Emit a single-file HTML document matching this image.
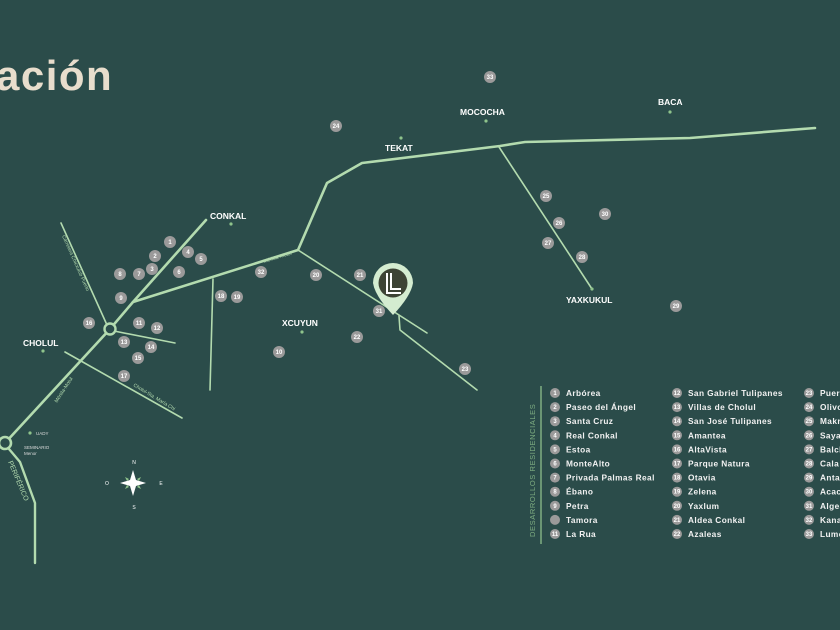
<!DOCTYPE html>
<html><head><meta charset="utf-8"><style>
html,body{margin:0;padding:0;background:#2b4c4a;}
svg{display:block;font-family:"Liberation Sans",sans-serif;}
.n circle{fill:#9b9a9a}
.n text{fill:#fff;font-size:6px;font-weight:bold;text-anchor:middle}
.pl{fill:#fff;font-size:8.5px;font-weight:bold}
.rd{stroke:#b3dbaf;fill:none;stroke-linecap:round;stroke-linejoin:round}
.lg text{fill:#f2f2f2;font-size:8.3px;font-weight:bold;letter-spacing:0.4px}
.lg circle{fill:#9b9a9a}
.lg .k{fill:#fff;font-size:6px;text-anchor:middle;letter-spacing:0}
</style></head><body>
<svg width="840" height="630" viewBox="0 0 840 630" xmlns="http://www.w3.org/2000/svg">
<rect width="840" height="630" fill="#2b4c4a"/>
<text x="-4" y="90" font-size="42" font-weight="bold" letter-spacing="1.5" fill="#e8ddcc">ación</text>

<polyline class="rd" stroke-width="2.6" points="5,443 110,329 133,302 206,220"/>
<polyline class="rd" stroke-width="2.6" points="133,302 298,250 327,183 362,163 500,146 525,142 690,138 815,128"/>
<polyline class="rd" stroke-width="2.4" points="9,449 20,462 35,503 35,563"/>
<line class="rd" stroke-width="1.6" x1="61" y1="223" x2="107" y2="325"/>
<line class="rd" stroke-width="1.6" x1="114" y1="331" x2="175" y2="343"/>
<line class="rd" stroke-width="1.6" x1="65" y1="352" x2="182" y2="418"/>
<line class="rd" stroke-width="1.6" x1="213" y1="279" x2="210" y2="390"/>
<line class="rd" stroke-width="1.6" x1="298" y1="250" x2="427" y2="333"/>
<polyline class="rd" stroke-width="1.6" points="399,316 400,330 477,390"/>
<line class="rd" stroke-width="1.6" x1="499" y1="147" x2="592" y2="289"/>
<circle cx="110" cy="329" r="5.5" fill="#2b4c4a" stroke="#b3dbaf" stroke-width="2.4"/>
<circle cx="5" cy="443" r="6" fill="#2b4c4a" stroke="#b3dbaf" stroke-width="2.6"/>

<text x="264" y="263" font-size="5" fill="#b3dbaf" transform="rotate(-17 264 263)">Mérida-Motul</text>
<text x="62" y="236" font-size="5" fill="#b3dbaf" transform="rotate(66 62 236)">Carretera Chicxulub Puerto</text>
<text x="133" y="386" font-size="5" fill="#b3dbaf" transform="rotate(31 133 386)">Cholul-Sta. María Chi</text>
<text x="57" y="403" font-size="5" fill="#b3dbaf" transform="rotate(-57 57 403)">Mérida-Motul</text>
<text x="8" y="462" font-size="7" fill="#b3dbaf" transform="rotate(67 8 462)">PERIFÉRICO</text>

<g fill="#8fc48c">
<circle cx="231" cy="224" r="1.6"/><circle cx="43" cy="351" r="1.6"/><circle cx="302" cy="332" r="1.6"/>
<circle cx="401" cy="138" r="1.6"/><circle cx="486" cy="121" r="1.6"/><circle cx="670" cy="112" r="1.6"/>
<circle cx="592" cy="289" r="1.6"/><circle cx="30" cy="433" r="1.6"/>
</g>
<text class="pl" x="210" y="219">CONKAL</text>
<text class="pl" x="23" y="346">CHOLUL</text>
<text class="pl" x="282" y="326">XCUYUN</text>
<text class="pl" x="385" y="151">TEKAT</text>
<text class="pl" x="460" y="115">MOCOCHA</text>
<text class="pl" x="658" y="105">BACA</text>
<text class="pl" x="566" y="303">YAXKUKUL</text>
<text x="36" y="435" font-size="4.5" fill="#ddd">UADY</text>
<text x="24" y="449" font-size="4.5" fill="#ddd">SEMINARIO</text>
<text x="24" y="455" font-size="4.5" fill="#ddd">Menor</text>

<g fill="#fff" font-size="5" text-anchor="middle">
<text x="134" y="464">N</text><text x="134" y="509">S</text><text x="107" y="485">O</text><text x="161" y="485">E</text>
</g>
<path d="M133,470 L136,480 L146,483 L136,486 L133,496 L130,486 L120,483 L130,480 Z" fill="#fff"/>
<path d="M129,479 L125,477 L127,481 Z M137,479 L141,477 L139,481Z M129,487 L125,489 L127,485Z M137,487 L141,489 L139,485Z" fill="#8fc48c"/>

<g class="n">
<g transform="translate(170,242)"><circle r="6"/><text y="2.2">1</text></g>
<g transform="translate(155,256)"><circle r="6"/><text y="2.2">2</text></g>
<g transform="translate(152,269)"><circle r="6"/><text y="2.2">3</text></g>
<g transform="translate(188,252)"><circle r="6"/><text y="2.2">4</text></g>
<g transform="translate(201,259)"><circle r="6"/><text y="2.2">5</text></g>
<g transform="translate(179,272)"><circle r="6"/><text y="2.2">6</text></g>
<g transform="translate(139,274)"><circle r="6"/><text y="2.2">7</text></g>
<g transform="translate(120,274)"><circle r="6"/><text y="2.2">8</text></g>
<g transform="translate(121,298)"><circle r="6"/><text y="2.2">9</text></g>
<g transform="translate(139,323)"><circle r="6"/><text y="2.2">11</text></g>
<g transform="translate(157,328)"><circle r="6"/><text y="2.2">12</text></g>
<g transform="translate(124,342)"><circle r="6"/><text y="2.2">13</text></g>
<g transform="translate(151,347)"><circle r="6"/><text y="2.2">14</text></g>
<g transform="translate(138,358)"><circle r="6"/><text y="2.2">15</text></g>
<g transform="translate(89,323)"><circle r="6"/><text y="2.2">16</text></g>
<g transform="translate(124,376)"><circle r="6"/><text y="2.2">17</text></g>
<g transform="translate(221,296)"><circle r="6"/><text y="2.2">18</text></g>
<g transform="translate(237,297)"><circle r="6"/><text y="2.2">19</text></g>
<g transform="translate(261,272)"><circle r="6"/><text y="2.2">32</text></g>
<g transform="translate(316,275)"><circle r="6"/><text y="2.2">20</text></g>
<g transform="translate(360,275)"><circle r="6"/><text y="2.2">21</text></g>
<g transform="translate(379,311)"><circle r="6"/><text y="2.2">31</text></g>
<g transform="translate(357,337)"><circle r="6"/><text y="2.2">22</text></g>
<g transform="translate(279,352)"><circle r="6"/><text y="2.2">10</text></g>
<g transform="translate(465,369)"><circle r="6"/><text y="2.2">23</text></g>
<g transform="translate(336,126)"><circle r="6"/><text y="2.2">24</text></g>
<g transform="translate(490,77)"><circle r="6"/><text y="2.2">33</text></g>
<g transform="translate(546,196)"><circle r="6"/><text y="2.2">25</text></g>
<g transform="translate(559,223)"><circle r="6"/><text y="2.2">26</text></g>
<g transform="translate(548,243)"><circle r="6"/><text y="2.2">27</text></g>
<g transform="translate(582,257)"><circle r="6"/><text y="2.2">28</text></g>
<g transform="translate(605,214)"><circle r="6"/><text y="2.2">30</text></g>
<g transform="translate(676,306)"><circle r="6"/><text y="2.2">29</text></g>
</g>

<path d="M373,283 A20,20 0 1 1 413,283 Q411,296 393,315 Q375,296 373,283 Z" fill="#d4ecd0"/>
<circle cx="393" cy="283" r="14.5" fill="#3d4334"/>
<path d="M387,273 V293 H401 M391,273 V289 H401" stroke="#fff" stroke-width="2" fill="none"/>

<line x1="541" y1="386" x2="541" y2="544" stroke="#7fae82" stroke-width="1.5"/>
<text x="535" y="537" font-size="7.5" fill="#7fae82" letter-spacing="0.6" transform="rotate(-90 535 537)">DESARROLLOS RESIDENCIALES</text>
<g class="lg">
<g transform="translate(555,393)">
<circle r="5"/><text class="k" y="2">1</text><text x="11" y="3">Arbórea</text>
<g transform="translate(0,14.1)"><circle r="5"/><text class="k" y="2">2</text><text x="11" y="3">Paseo del Ángel</text></g>
<g transform="translate(0,28.2)"><circle r="5"/><text class="k" y="2">3</text><text x="11" y="3">Santa Cruz</text></g>
<g transform="translate(0,42.3)"><circle r="5"/><text class="k" y="2">4</text><text x="11" y="3">Real Conkal</text></g>
<g transform="translate(0,56.4)"><circle r="5"/><text class="k" y="2">5</text><text x="11" y="3">Estoa</text></g>
<g transform="translate(0,70.5)"><circle r="5"/><text class="k" y="2">6</text><text x="11" y="3">MonteAlto</text></g>
<g transform="translate(0,84.6)"><circle r="5"/><text class="k" y="2">7</text><text x="11" y="3">Privada Palmas Real</text></g>
<g transform="translate(0,98.7)"><circle r="5"/><text class="k" y="2">8</text><text x="11" y="3">Ébano</text></g>
<g transform="translate(0,112.8)"><circle r="5"/><text class="k" y="2">9</text><text x="11" y="3">Petra</text></g>
<g transform="translate(0,126.9)"><circle r="5"/><text x="11" y="3">Tamora</text></g>
<g transform="translate(0,141)"><circle r="5"/><text class="k" y="2">11</text><text x="11" y="3">La Rua</text></g>
</g>
<g transform="translate(677,393)">
<circle r="5"/><text class="k" y="2">12</text><text x="11" y="3">San Gabriel Tulipanes</text>
<g transform="translate(0,14.1)"><circle r="5"/><text class="k" y="2">13</text><text x="11" y="3">Villas de Cholul</text></g>
<g transform="translate(0,28.2)"><circle r="5"/><text class="k" y="2">14</text><text x="11" y="3">San José Tulipanes</text></g>
<g transform="translate(0,42.3)"><circle r="5"/><text class="k" y="2">15</text><text x="11" y="3">Amantea</text></g>
<g transform="translate(0,56.4)"><circle r="5"/><text class="k" y="2">16</text><text x="11" y="3">AltaVista</text></g>
<g transform="translate(0,70.5)"><circle r="5"/><text class="k" y="2">17</text><text x="11" y="3">Parque Natura</text></g>
<g transform="translate(0,84.6)"><circle r="5"/><text class="k" y="2">18</text><text x="11" y="3">Otavia</text></g>
<g transform="translate(0,98.7)"><circle r="5"/><text class="k" y="2">19</text><text x="11" y="3">Zelena</text></g>
<g transform="translate(0,112.8)"><circle r="5"/><text class="k" y="2">20</text><text x="11" y="3">Yaxlum</text></g>
<g transform="translate(0,126.9)"><circle r="5"/><text class="k" y="2">21</text><text x="11" y="3">Aldea Conkal</text></g>
<g transform="translate(0,141)"><circle r="5"/><text class="k" y="2">22</text><text x="11" y="3">Azaleas</text></g>
</g>
<g transform="translate(809,393)">
<circle r="5"/><text class="k" y="2">23</text><text x="11" y="3">Puerta</text>
<g transform="translate(0,14.1)"><circle r="5"/><text class="k" y="2">24</text><text x="11" y="3">Olivos</text></g>
<g transform="translate(0,28.2)"><circle r="5"/><text class="k" y="2">25</text><text x="11" y="3">Makro</text></g>
<g transform="translate(0,42.3)"><circle r="5"/><text class="k" y="2">26</text><text x="11" y="3">Sayab</text></g>
<g transform="translate(0,56.4)"><circle r="5"/><text class="k" y="2">27</text><text x="11" y="3">Balche</text></g>
<g transform="translate(0,70.5)"><circle r="5"/><text class="k" y="2">28</text><text x="11" y="3">Cala</text></g>
<g transform="translate(0,84.6)"><circle r="5"/><text class="k" y="2">29</text><text x="11" y="3">Antara</text></g>
<g transform="translate(0,98.7)"><circle r="5"/><text class="k" y="2">30</text><text x="11" y="3">Acacia</text></g>
<g transform="translate(0,112.8)"><circle r="5"/><text class="k" y="2">31</text><text x="11" y="3">Algea</text></g>
<g transform="translate(0,126.9)"><circle r="5"/><text class="k" y="2">32</text><text x="11" y="3">Kana</text></g>
<g transform="translate(0,141)"><circle r="5"/><text class="k" y="2">33</text><text x="11" y="3">Lumen</text></g>
</g>
</g>
</svg>
</body></html>
